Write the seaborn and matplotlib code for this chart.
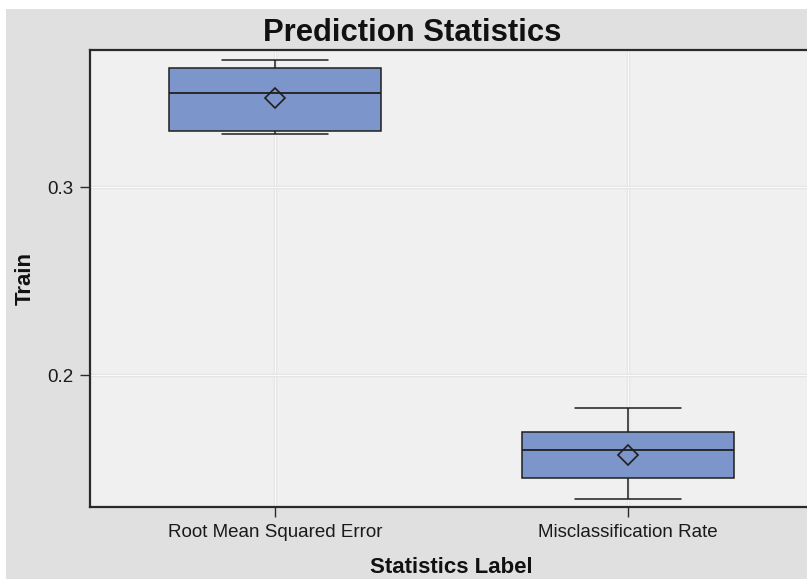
import matplotlib
matplotlib.use("Agg")
import matplotlib.pyplot as plt
import matplotlib.patheffects as pe
from matplotlib.patches import Rectangle
import pandas as pd
import seaborn as sns

# Per-fold training statistics
categories = ["Root Mean Squared Error", "Misclassification Rate"]
rmse_values = [0.3280, 0.3290, 0.3298, 0.3380, 0.3498, 0.3545, 0.3631, 0.3650, 0.3676]
misclass_values = [0.1339, 0.1400, 0.1454, 0.1483, 0.1600, 0.1650, 0.1698, 0.1710, 0.1823]
y_ticks = [0.2, 0.3]

df = pd.DataFrame({
    "Statistics Label": [categories[0]] * len(rmse_values) + [categories[1]] * len(misclass_values),
    "Train": rmse_values + misclass_values,
})

sns.set_theme(style="white")
plt.rcParams["font.family"] = ["Liberation Sans", "DejaVu Sans"]

W, H = 807, 582
fig = plt.figure(figsize=(W / 100, H / 100), dpi=100, facecolor="white")
# gray panel behind the whole graph
fig.patches.append(Rectangle((6 / W, 3 / H), 1 - 6 / W, 1 - 12 / H,
                             transform=fig.transFigure, facecolor="#e0e0e0",
                             edgecolor="none", zorder=-5))

ax = fig.add_axes([90 / W, (H - 507) / H, 723 / W, 457 / H])
ax.set_zorder(2)
ax.set_facecolor("#f0f0f0")

edge = "#1f1f1f"
sns.boxplot(
    data=df, x="Statistics Label", y="Train", order=categories, ax=ax,
    color="#7c95ca", saturation=1, width=0.6, whis=3.0,
    linewidth=1.1, linecolor=edge,
    showmeans=True,
    meanprops=dict(marker="D", markerfacecolor="none", markeredgecolor=edge,
                   markeredgewidth=1.2, markersize=10),
    medianprops=dict(color=edge, linewidth=1.3),
    boxprops=dict(edgecolor=edge, linewidth=1.1),
    whiskerprops=dict(color=edge, linewidth=1.1),
    capprops=dict(color=edge, linewidth=1.1),
    zorder=3,
)

ax.set_xlim(-0.524, 1.524)
ax.set_ylim(0.1298, 0.3729)
ax.set_yticks(y_ticks)
ax.set_yticklabels(["0.2", "0.3"])

ax.grid(True, color="#fbfbfb", linewidth=1.0,
        path_effects=[pe.Stroke(linewidth=2.4, foreground="#e0e0e0"), pe.Normal()])
ax.set_axisbelow(True)

for s in ax.spines.values():
    s.set_color("#2a2a2a")
    s.set_linewidth(1.6)
    s.set_visible(True)

ax.tick_params(axis="both", which="major", direction="out", length=7, width=1.0,
               color="#2a2a2a", labelsize=13.5, labelcolor="#1a1a1a", pad=5,
               left=True, bottom=True)

ax.set_xlabel("Statistics Label", fontsize=16, fontweight="bold", color="#111111", labelpad=12)
ax.set_ylabel("Train", fontsize=16, fontweight="bold", color="#111111", labelpad=8)

fig.text(412 / W, 1 - 41 / H, "Prediction Statistics", ha="center", va="baseline",
         fontsize=22.3, fontweight="bold", color="#111111")

fig.savefig("out.png", dpi=100, facecolor="white")
